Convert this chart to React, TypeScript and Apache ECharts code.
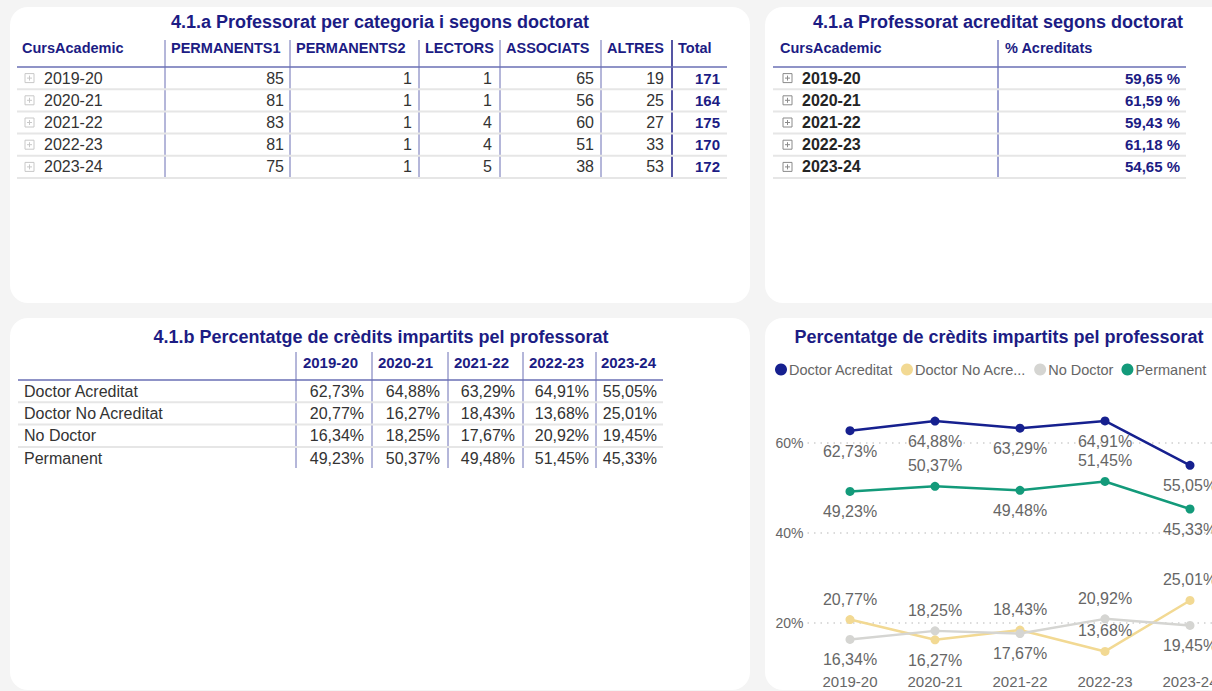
import React, { useEffect, useRef } from 'react';
import * as echarts from 'echarts';

// ---------- data ----------
const years = ['2019-20', '2020-21', '2021-22', '2022-23', '2023-24'];
const categoryColumns = ['PERMANENTS1', 'PERMANENTS2', 'LECTORS', 'ASSOCIATS', 'ALTRES'];
const permanents1 = [85, 81, 83, 81, 75];
const permanents2 = [1, 1, 1, 1, 1];
const lectors = [1, 1, 4, 4, 5];
const associats = [65, 56, 60, 51, 38];
const altres = [19, 25, 27, 33, 53];
const totals = [171, 164, 175, 170, 172];
const pctAcreditats = [59.65, 61.59, 59.43, 61.18, 54.65];

const seriesNames = ['Doctor Acreditat', 'Doctor No Acreditat', 'No Doctor', 'Permanent'];
const doctorAcreditat = [62.73, 64.88, 63.29, 64.91, 55.05];
const doctorNoAcreditat = [20.77, 16.27, 18.43, 13.68, 25.01];
const noDoctor = [16.34, 18.25, 17.67, 20.92, 19.45];
const permanent = [49.23, 50.37, 49.48, 51.45, 45.33];
const yTickLabels = [20, 40, 60];

const title1 = '4.1.a Professorat per categoria i segons doctorat';
const title2 = '4.1.a Professorat acreditat segons doctorat';
const title3 = '4.1.b Percentatge de crèdits impartits pel professorat';
const title4 = 'Percentatge de crèdits impartits pel professorat';

// ---------- styles ----------
const FONT = '"Liberation Sans", Arial, Helvetica, sans-serif';
const NAVY = '#1c1c84';
const SEP = '#6a6fb4';
const ROWLINE = '#e6e6e6';
const BODY = '#333333';
const COLORS = ['#16208f', '#f2d993', '#d5d5d2', '#139a7a'];
const labelPositions = [
  ['bottom', 'bottom', 'bottom', 'bottom', 'bottom'],
  ['top', 'bottom', 'top', 'top', 'top'],
  ['bottom', 'top', 'bottom', 'top', 'bottom'],
  ['bottom', 'top', 'bottom', 'top', 'bottom'],
];
const CANVAS_W = 1240; // wider than the window: the right edge is cropped like the reference
const CANVAS_H = 691;

const fmtPct = (v: number) => v.toFixed(2).replace('.', ',') + '%';

function txt(text: string, x: number, y: number, o: any = {}) {
  const align = o.align || 'left';
  return {
    type: 'text',
    z: 10,
    silent: true,
    style: {
      text,
      x,
      y,
      fill: o.fill || BODY,
      fontSize: o.size || 16,
      fontWeight: o.bold ? 'bold' : 'normal',
      fontFamily: FONT,
      textAlign: align,
      align,
      textVerticalAlign: 'middle',
      verticalAlign: 'middle',
    },
  };
}
function hline(x1: number, x2: number, y: number, color: string, w = 1) {
  return { type: 'line', z: 5, silent: true, shape: { x1, y1: y, x2, y2: y }, style: { stroke: color, lineWidth: w } };
}
function vline(x: number, y1: number, y2: number, color: string, w = 1) {
  return { type: 'line', z: 5, silent: true, shape: { x1: x, y1, x2: x, y2 }, style: { stroke: color, lineWidth: w } };
}
function card(x: number, y: number, w: number, h: number) {
  return { type: 'rect', z: 0, silent: true, shape: { x, y, width: w, height: h, r: 18 }, style: { fill: '#ffffff' } };
}
function expandIcon(x: number, cy: number, color: string) {
  return [
    { type: 'rect', z: 6, silent: true, shape: { x, y: cy - 4.5, width: 9, height: 9 }, style: { fill: '#fff', stroke: color, lineWidth: 1 } },
    { type: 'line', z: 7, silent: true, shape: { x1: x + 2, y1: cy, x2: x + 7, y2: cy }, style: { stroke: color, lineWidth: 1 } },
    { type: 'line', z: 7, silent: true, shape: { x1: x + 4.5, y1: cy - 2.5, x2: x + 4.5, y2: cy + 2.5 }, style: { stroke: color, lineWidth: 1 } },
  ];
}

function buildGraphics() {
  const g: any[] = [];
  // cards
  g.push(card(10, 7, 740, 296), card(765, 7, 500, 296), card(10, 318, 740, 372), card(765, 318, 500, 372));

  // ---- table 1 ----
  g.push(txt(title1, 380, 22, { fill: NAVY, bold: true, size: 18, align: 'center' }));
  const t1Seps = [165, 290, 419, 500, 601, 672];
  const t1Right = [284, 412, 492, 594, 664, 720];
  const headerY = 48;
  const rowTop = 67;
  const rowH = 22.2;
  g.push(txt('CursAcademic', 22, headerY, { fill: NAVY, bold: true, size: 14.5 }));
  [...categoryColumns, 'Total'].forEach((c, i) => g.push(txt(c, t1Seps[i] + 6, headerY, { fill: NAVY, bold: true, size: 14.5 })));
  t1Seps.forEach((x, i) => g.push(vline(x, 40, 178, i === 5 ? NAVY : SEP, i === 5 ? 1.5 : 1)));
  g.push(hline(17, 727, rowTop, SEP, 1.5));
  const catValues = [permanents1, permanents2, lectors, associats, altres];
  years.forEach((yr, r) => {
    const cy = rowTop + rowH * (r + 0.5);
    g.push(...expandIcon(25, cy, '#c8c8c8'));
    g.push(txt(yr, 44, cy, { size: 16 }));
    catValues.forEach((arr, c) => g.push(txt(String(arr[r]), t1Right[c], cy, { align: 'right', size: 16 })));
    g.push(txt(String(totals[r]), t1Right[5], cy, { align: 'right', size: 15, bold: true, fill: NAVY }));
    g.push(hline(17, 727, rowTop + rowH * (r + 1), ROWLINE, 2));
  });

  // ---- table 2 ----
  g.push(txt(title2, 998, 22, { fill: NAVY, bold: true, size: 18, align: 'center' }));
  g.push(txt('CursAcademic', 780, headerY, { fill: NAVY, bold: true, size: 14.5 }));
  g.push(txt('% Acreditats', 1005, headerY, { fill: NAVY, bold: true, size: 14.5 }));
  g.push(vline(998, 40, 178, '#7a7fc0', 1.5));
  g.push(hline(773, 1186, rowTop, SEP, 1.5));
  years.forEach((yr, r) => {
    const cy = rowTop + rowH * (r + 0.5);
    g.push(...expandIcon(783, cy, '#8a8a8a'));
    g.push(txt(yr, 802, cy, { size: 16, bold: true, fill: '#252525' }));
    g.push(txt(pctAcreditats[r].toFixed(2).replace('.', ',') + ' %', 1180, cy, { align: 'right', size: 15, bold: true, fill: NAVY }));
    g.push(hline(773, 1186, rowTop + rowH * (r + 1), ROWLINE, 2));
  });

  // ---- table 3 ----
  g.push(txt(title3, 381, 337, { fill: NAVY, bold: true, size: 18, align: 'center' }));
  const t3Seps = [296, 372, 448, 523, 596];
  const t3HeadRight = [358, 433, 509, 584, 656];
  const t3Right = [364, 440, 515, 589, 657];
  const t3HeaderY = 362;
  const t3Top = 380;
  const t3RowH = 22.3;
  years.forEach((yr, i) => g.push(txt(yr, t3HeadRight[i], t3HeaderY, { fill: NAVY, bold: true, size: 15, align: 'right' })));
  t3Seps.forEach((x) => g.push(vline(x, 352, 468, SEP, 1)));
  g.push(hline(18, 663, t3Top, SEP, 1.5));
  const seriesValues = [doctorAcreditat, doctorNoAcreditat, noDoctor, permanent];
  seriesNames.forEach((name, r) => {
    const cy = t3Top + t3RowH * (r + 0.5);
    g.push(txt(name, 24, cy, { size: 16 }));
    seriesValues[r].forEach((v, c) => g.push(txt(fmtPct(v), t3Right[c], cy, { align: 'right', size: 16 })));
    if (r < seriesNames.length - 1) g.push(hline(18, 663, t3Top + t3RowH * (r + 1), ROWLINE, 2));
  });

  // ---- chart title ----
  g.push(txt(title4, 999, 337, { fill: NAVY, bold: true, size: 18, align: 'center' }));
  return g;
}

export default function App() {
  const ref = useRef<HTMLDivElement>(null);
  useEffect(() => {
    if (!ref.current) return;
    const chart = echarts.init(ref.current, undefined, { renderer: 'svg' });
    const seriesValues = [doctorAcreditat, doctorNoAcreditat, noDoctor, permanent];
    const option: any = {
      animation: false,
      backgroundColor: '#f4f4f4',
      textStyle: { fontFamily: FONT },
      graphic: { elements: buildGraphics() },
      legend: {
        left: 775,
        top: 362,
        width: 460,
        padding: 0,
        icon: 'circle',
        itemWidth: 12,
        itemHeight: 12,
        itemGap: 8,
        textStyle: { fontSize: 14.5, color: '#666', fontFamily: FONT, padding: [0, 0, 0, -3] },
        data: seriesNames.map((n) =>
          n === 'Doctor No Acreditat'
            ? { name: n, textStyle: { width: 114, overflow: 'truncate', ellipsis: '...' } }
            : { name: n }
        ),
      },
      grid: { left: 807.5, width: 425, top: 398, bottom: 23, containLabel: false },
      xAxis: {
        type: 'category',
        data: years,
        boundaryGap: true,
        axisLine: { show: false },
        axisTick: { show: false },
        axisLabel: { fontSize: 15, color: '#666', margin: 6, fontFamily: FONT },
      },
      yAxis: {
        type: 'value',
        min: 10,
        max: 70,
        interval: 10,
        splitLine: { show: false },
        axisLine: { show: false },
        axisTick: { show: false },
        axisLabel: {
          fontSize: 14,
          color: '#666',
          margin: 4,
          fontFamily: FONT,
          formatter: (v: number) => (yTickLabels.includes(v) ? v + '%' : ''),
        },
      },
      series: seriesNames.map((name, s) => ({
        name,
        type: 'line',
        color: COLORS[s],
        symbol: 'circle',
        symbolSize: 9,
        showSymbol: true,
        lineStyle: { width: 2.5, color: COLORS[s] },
        itemStyle: { color: COLORS[s] },
        data: seriesValues[s].map((v, i) => ({
          value: v,
          label: { position: labelPositions[s][i] },
        })),
        label: {
          show: true,
          distance: 8,
          fontSize: 16,
          color: '#666',
          fontFamily: FONT,
          formatter: (p: any) => fmtPct(p.value),
        },
        markLine:
          s === 0
            ? {
                silent: true,
                symbol: 'none',
                label: { show: false },
                z: 1,
                lineStyle: { color: '#cfcfcf', type: [1.5, 5], width: 1.5 },
                data: yTickLabels.map((v) => ({ yAxis: v })),
              }
            : undefined,
      })),
    };
    chart.setOption(option);
    return () => chart.dispose();
  }, []);
  return (
    <div style={{ position: 'fixed', left: 0, top: 0, width: 1212, height: 691, overflow: 'hidden', background: '#f4f4f4' }}>
      <div ref={ref} style={{ width: CANVAS_W, height: CANVAS_H }} />
    </div>
  );
}
